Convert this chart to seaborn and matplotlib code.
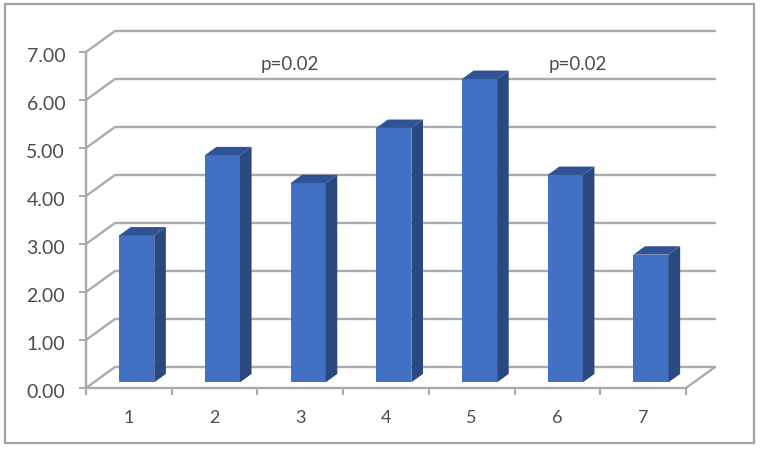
import matplotlib
matplotlib.use("Agg")
import matplotlib.pyplot as plt
from matplotlib.patches import Polygon, Rectangle
from matplotlib.transforms import ScaledTranslation
import pandas as pd
import seaborn as sns

categories = ["1", "2", "3", "4", "5", "6", "7"]
values = [3.06, 4.73, 4.15, 5.30, 6.32, 4.32, 2.66]
y_ticks = [0, 1, 2, 3, 4, 5, 6, 7]
notes = ["p=0.02", "p=0.02"]
note_x = [1.88, 5.24]
note_y = [6.75, 6.75]

W, H = 761, 452
GRAY = "#ababab"
TEXT = "#4d4d4d"

sns.set_theme(style="white")
plt.rcParams["font.family"] = ["Lato", "DejaVu Sans"]

fig = plt.figure(figsize=(W / 100, H / 100), dpi=100)
# front plane of the fake 3d box, in pixels
left, right, bottom, top = 86, 686, 389, 53
ax = fig.add_axes([left / W, 1 - bottom / H, (right - left) / W, (bottom - top) / H])

df = pd.DataFrame({"cat": categories, "val": values})
sns.barplot(data=df, x="cat", y="val", color="#4270c3", saturation=1, width=0.41,
            linewidth=0, ax=ax, zorder=3)

ax.set_xlim(-0.5, 6.5)
ax.set_ylim(0, 7)

# depth of the box in axis units
depth_x = 29 / 85.7
depth_y = 21 / 48
x0, x1 = ax.get_xlim()

# back wall gridlines + left diagonals
for v in y_ticks:
    ax.plot([x0, x0 + depth_x, x1 + depth_x], [v, v + depth_y, v + depth_y],
            color=GRAY, lw=1.7, clip_on=False, zorder=1, solid_joinstyle="round")
# floor, right side
ax.plot([x1, x1 + depth_x], [0, depth_y], color=GRAY, lw=1.7, clip_on=False, zorder=1)

# bars stand in the middle of the floor
front = 0.27
back = 0.67
for bar, v in zip(ax.patches, values):
    bx = bar.get_x() + front * depth_x
    by = front * depth_y
    w = bar.get_width()
    bar.set_x(bx)
    bar.set_y(by)
    ddx = (back - front) * depth_x
    ddy = (back - front) * depth_y
    ax.add_patch(Polygon([(bx + w, by), (bx + w + ddx, by + ddy), (bx + w + ddx, by + v + ddy), (bx + w, by + v)],
                         closed=True, fc="#29497f", ec="none", zorder=3, clip_on=False))
    ax.add_patch(Polygon([(bx, by + v), (bx + ddx, by + v + ddy), (bx + w + ddx, by + v + ddy), (bx + w, by + v)],
                         closed=True, fc="#2f5394", ec="none", zorder=3, clip_on=False))

for t, nx, ny in zip(notes, note_x, note_y):
    ax.text(nx, ny, t, ha="center", va="center", fontsize=13.5, color=TEXT, zorder=5)

sns.despine(ax=ax)
for s in ["left", "bottom"]:
    ax.spines[s].set_color(GRAY)
    ax.spines[s].set_linewidth(1.7)

ax.set_xlabel("")
ax.set_ylabel("")
ax.set_yticks(y_ticks)
ax.set_yticklabels([f"{v:.2f}" for v in y_ticks])
ax.set_xticks([i + 0.5 for i in range(-1, 7)], minor=True)
ax.tick_params(axis="y", length=5, width=1.5, color=GRAY, labelsize=14, labelcolor=TEXT, pad=10, left=True)
ax.tick_params(axis="x", which="major", length=0, labelsize=13, labelcolor=TEXT, pad=15, bottom=False)
ax.tick_params(axis="x", which="minor", length=5, width=1.5, color=GRAY, bottom=True)
ax.patch.set_alpha(0)

# labels sit a bit under their ticks in the original
shift = ScaledTranslation(0, -2 / 100, fig.dpi_scale_trans)
for lab in ax.get_yticklabels():
    lab.set_transform(lab.get_transform() + shift)

# outer chart frame
fig.add_artist(Rectangle((5 / W, 1 - 444 / H), 749 / W, 439 / H, transform=fig.transFigure,
                         fill=False, ec="#a3a3a3", lw=1.6))

fig.savefig("out.png", dpi=100)
